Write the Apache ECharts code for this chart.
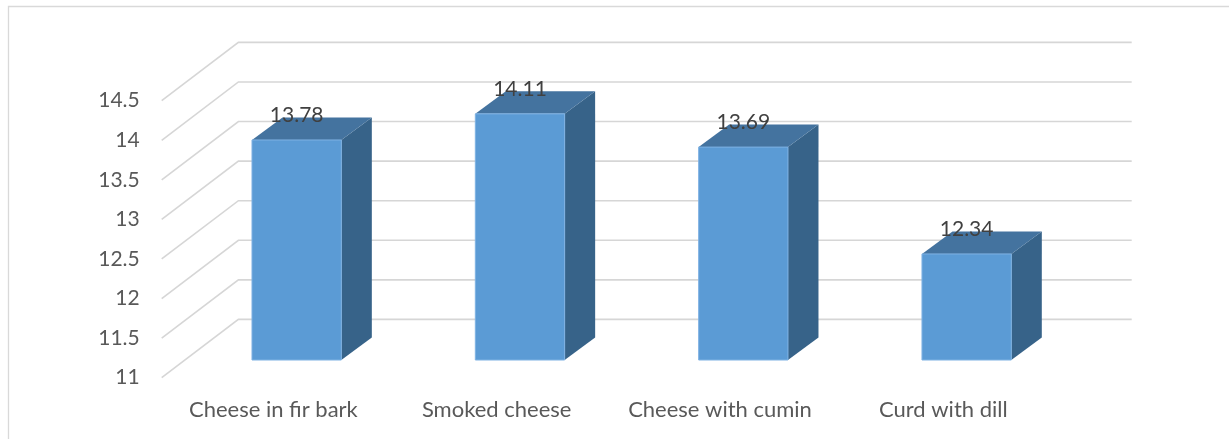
<!DOCTYPE html>
<html><head><meta charset="utf-8">
<script src="https://cdn.jsdelivr.net/npm/echarts@6/dist/echarts.min.js"></script>
<style>html,body{margin:0;padding:0;background:#fff}#c{width:1229px;height:439px}</style>
</head><body><div id="c"></div>
<script>
const categories = ['Cheese in fir bark', 'Smoked cheese', 'Cheese with cumin', 'Curd with dill'];
const values = [13.78, 14.11, 13.69, 12.34];
const yTicks = [11, 11.5, 12, 12.5, 13, 13.5, 14, 14.5];
const yMin = 11, yMax = 14.5, yStep = 0.5;

// 3D projection constants (pixels)
const WALL_DX = 76.7, WALL_DY = 58.3;   // depth of the plot box
const BAR_OX = 23.3, BAR_OY = 17.7;     // bar front offset into the box
const BAR_DX = 30.5, BAR_DY = 22.5;     // bar depth
const BAR_W = 0.4;                       // fraction of band width
const FONT = 'Lato';

const chart = echarts.init(document.getElementById('c'), null, {renderer: 'canvas'});

function gridRender(params, api) {
  const v = api.value(1);
  const p0 = api.coord([0, v]);
  const p3 = api.coord([categories.length - 1, v]);
  const bw = api.size([1, 0])[0];
  const lx = p0[0] - bw / 2, rx = p3[0] + bw / 2;
  const y = p0[1];
  return {
    type: 'polyline',
    shape: {points: [[lx, y], [lx + WALL_DX, y - WALL_DY], [rx + WALL_DX, y - WALL_DY]]},
    style: {stroke: '#D6D6D6', lineWidth: 1.6, fill: null}
  };
}

function barRender(params, api) {
  const i = api.value(0), v = api.value(1);
  const base = api.coord([i, yMin]);
  const top = api.coord([i, v]);
  const bw = api.size([1, 0])[0];
  const w = bw * BAR_W;
  const fl = base[0] - w / 2 + BAR_OX;
  const by = base[1] - BAR_OY;
  const ty = top[1] - BAR_OY;
  return {
    type: 'group',
    children: [
      {type: 'polygon', shape: {points: [[fl + w, ty], [fl + w + BAR_DX, ty - BAR_DY], [fl + w + BAR_DX, by - BAR_DY], [fl + w, by]]},
       style: {fill: '#376389'}},
      {type: 'polygon', shape: {points: [[fl, ty], [fl + w, ty], [fl + w + BAR_DX, ty - BAR_DY], [fl + BAR_DX, ty - BAR_DY]]},
       style: {fill: '#44739F'}},
      {type: 'rect', shape: {x: fl, y: ty, width: w, height: by - ty},
       style: {fill: '#5B9BD5', stroke: '#7FB2E3', lineWidth: 1}},
      {type: 'text', x: fl + w / 2, y: ty - 25,
       style: {text: v.toFixed(2), fill: '#404040', font: '21px ' + FONT, align: 'center', verticalAlign: 'middle'}}
    ]
  };
}

chart.setOption({
  animation: false,
  backgroundColor: '#fff',
  graphic: [{type: 'rect', shape: {x: 8.5, y: 6.5, width: 1260, height: 460},
             style: {fill: null, stroke: '#D9D9D9', lineWidth: 1.3}, silent: true}],
  grid: {left: 161.7, right: 174, top: 100.7, bottom: 61.3},
  xAxis: {
    type: 'category', data: categories,
    axisLine: {show: false}, axisTick: {show: false}, splitLine: {show: false},
    axisLabel: {margin: 21, color: '#595959', fontFamily: FONT, fontSize: 22, interval: 0}
  },
  yAxis: {
    type: 'value', min: yMin, max: yMax, interval: yStep,
    axisLine: {show: false}, axisTick: {show: false}, splitLine: {show: false},
    axisLabel: {margin: 22, color: '#595959', fontFamily: FONT, fontSize: 21}
  },
  series: [
    {type: 'custom', renderItem: gridRender, clip: false, silent: true, z: 1,
     data: yTicks.map(v => [0, v])},
    {type: 'custom', renderItem: barRender, clip: false, z: 5,
     data: values.map((v, i) => [i, v])}
  ]
});
</script></body></html>
